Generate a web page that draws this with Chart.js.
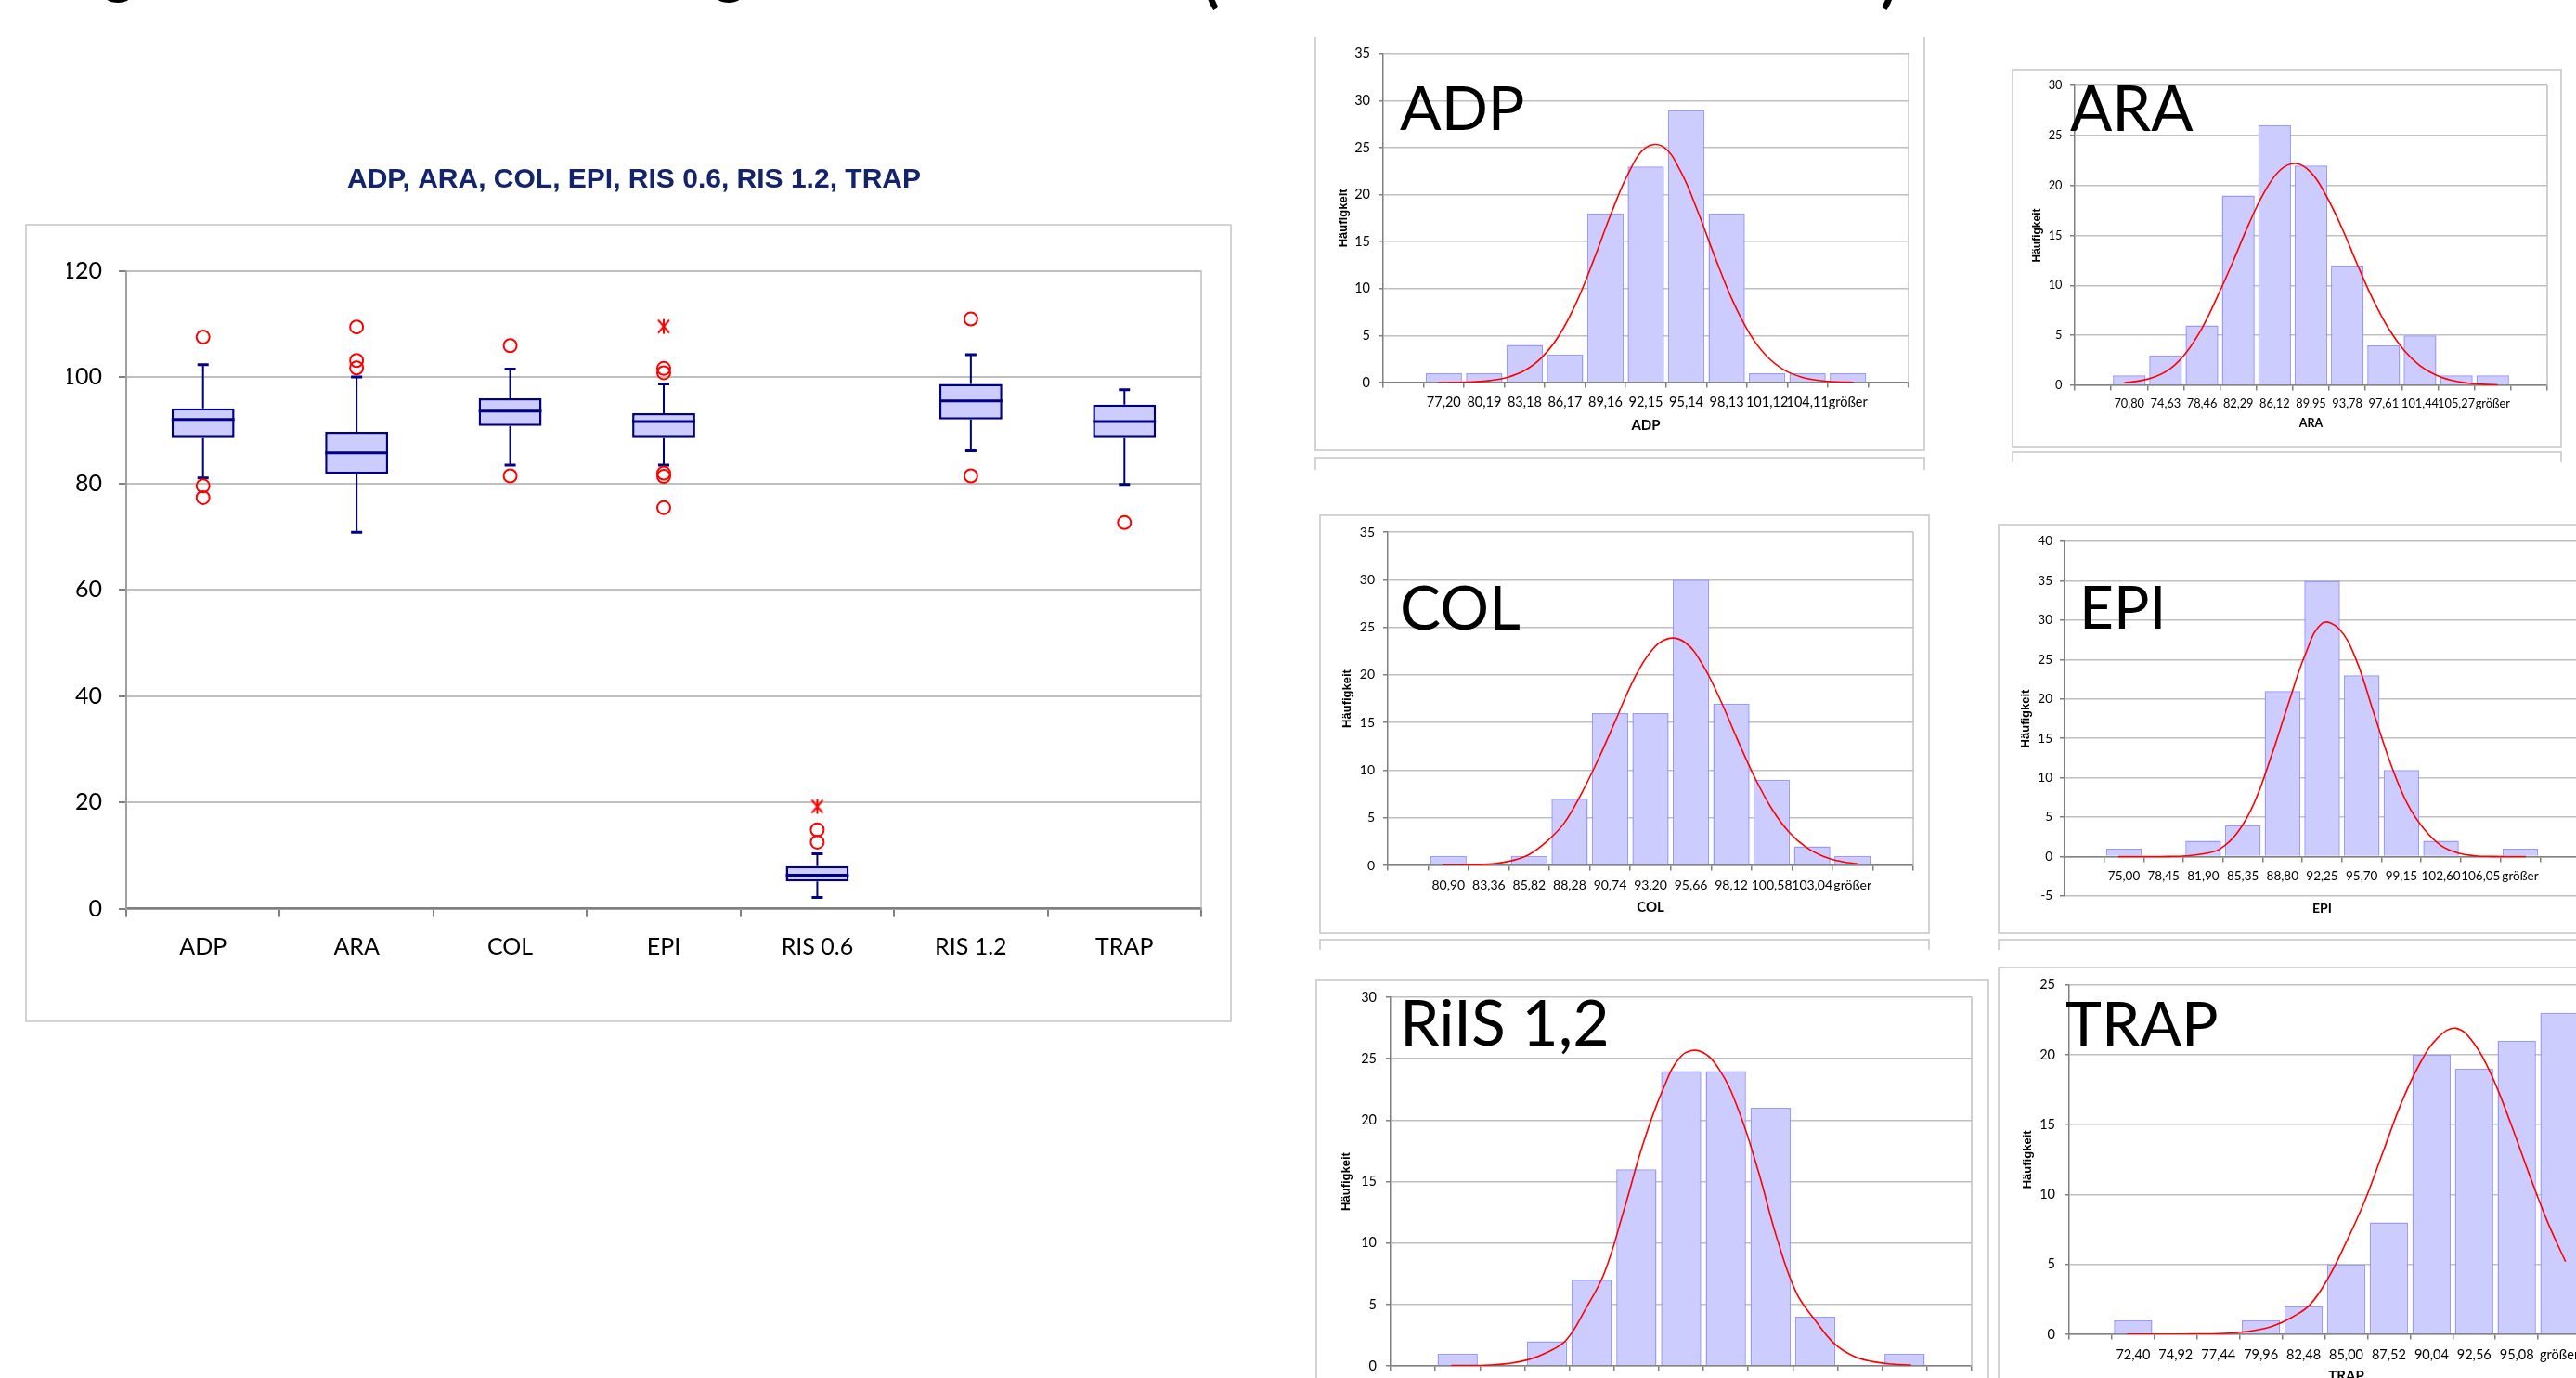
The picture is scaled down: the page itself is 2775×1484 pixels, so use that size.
<!DOCTYPE html>
<html><head><meta charset="utf-8">
<script src="https://cdn.jsdelivr.net/npm/chart.js@4.4.1/dist/chart.umd.min.js"></script>
<style>
html,body{margin:0;padding:0;background:#fff;overflow:hidden;width:2775px;height:1484px;position:relative}
.frame{position:absolute;border:2px solid #d4d4d4;box-sizing:border-box}
.big{position:absolute;font-family:Lato,sans-serif;color:#000;line-height:1;white-space:nowrap;z-index:5}
.top{position:absolute;font-family:Lato,sans-serif;font-weight:bold;font-size:64px;line-height:1;color:#000}
canvas{position:absolute;z-index:2}
</style></head><body>
<script>
// ---------------- data ----------------
const boxCats   = ['ADP','ARA','COL','EPI','RIS 0.6','RIS 1.2','TRAP'];
const boxLow    = [81.0, 70.8, 83.4, 83.4, 2.1, 86.1, 79.8];
const boxQ1     = [88.5, 81.8, 90.8, 88.5, 5.1, 92.0, 88.5];
const boxMedian = [92.0, 85.7, 93.6, 91.6, 6.3, 95.5, 91.6];
const boxQ3     = [94.1, 89.7, 96.0, 93.2, 8.0, 98.7, 94.8];
const boxHigh   = [102.3,100.0,101.5, 98.7,10.3,104.2, 97.6];
const outlierCats = ['ADP','ADP','ADP','ARA','ARA','ARA','COL','COL','EPI','EPI','EPI','EPI','EPI','RIS 0.6','RIS 0.6','RIS 1.2','RIS 1.2','TRAP'];
const outlierVals = [107.5,79.5,77.3,109.4,103.1,101.7,105.9,81.4,101.6,100.8,81.9,81.3,75.4,14.8,12.5,110.9,81.4,72.6];
const extremeCats = ['EPI','RIS 0.6'];
const extremeVals = [109.5, 19.2];
const boxYTicks = [0,20,40,60,80,100,120];

const curveX = [0,0.5,1,1.5,2,2.5,3,3.5,4,4.5,5,5.5,6,6.5,7,7.5,8,8.5,9,9.5,10,10.5,11,11.5,12];

const adpBins   = ['77,20','80,19','83,18','86,17','89,16','92,15','95,14','98,13','101,12','104,11','größer'];
const adpCounts = [1,1,4,3,18,23,29,18,1,1,1];
const adpCurve  = [0.0,0.02,0.07,0.21,0.55,1.28,2.68,5.04,8.56,13.1,18.0,22.3,25.0,25.1,22.5,18.2,13.3,8.75,5.18,2.76,1.32,0.57,0.22,0.08,0.02];

const araBins   = ['70,80','74,63','78,46','82,29','86,12','89,95','93,78','97,61','101,44','105,27','größer'];
const araCounts = [1,3,6,19,26,22,12,4,5,1,1];
const araCurve  = [0.25,0.45,0.85,1.7,3.3,5.7,8.9,12.4,16.1,19.3,21.5,22.2,21.3,18.9,15.7,12.0,8.53,5.64,3.46,1.97,1.04,0.51,0.23,0.10,0.04];

const colBins   = ['80,90','83,36','85,82','88,28','90,74','93,20','95,66','98,12','100,58','103,04','größer'];
const colCounts = [1,0,1,7,16,16,30,17,9,2,1];
const colCurve  = [0.01,0.03,0.09,0.2,0.5,1.15,2.5,4.4,7.5,11.2,15.3,19.4,22.4,23.8,23.4,21.1,17.5,13.3,9.3,5.95,3.49,1.88,0.93,0.42,0.17];

const epiBins   = ['75,00','78,45','81,90','85,35','88,80','92,25','95,70','99,15','102,60','106,05','größer'];
const epiCounts = [1,0,2,4,21,35,23,11,2,0,1];
const epiCurve  = [0,0,0.01,0.02,0.1,0.35,1.0,3.0,6.8,12.7,19.3,25.6,29.6,28.9,25.0,18.5,12.0,6.8,3.5,1.4,0.45,0.1,0.02,0,0];

const rilsBins   = ['','','','','','','','','','',''];
const rilsCounts = [1,0,2,7,16,24,24,21,4,0,1];
const rilsCurve  = [0.03,0.03,0.08,0.2,0.5,1.1,2.1,4.6,7.6,12.6,18.0,22.3,25.2,25.6,24.1,20.8,16.0,10.4,6.0,3.7,1.8,0.8,0.35,0.15,0.07];

const trapBins   = ['72,40','74,92','77,44','79,96','82,48','85,00','87,52','90,04','92,56','95,08','größer'];
const trapCounts = [1,0,0,1,2,5,8,20,19,21,23];
const trapCurve  = [0.02,0.02,0.02,0.02,0.03,0.05,0.12,0.28,0.6,1.2,2.1,4.0,6.6,9.5,13.0,16.5,19.3,21.2,21.9,20.8,18.4,15.1,11.5,8.1,5.2];

// ---------------- helpers ----------------
Chart.defaults.font.family = 'Lato, sans-serif';
Chart.defaults.color = '#000';

function el(tag, cls, css, text){
  const e = document.createElement(tag);
  if (cls) e.className = cls;
  Object.assign(e.style, css);
  if (text !== undefined) e.textContent = text;
  document.body.appendChild(e);
  return e;
}
function frame(l,t,w,h,extra){ el('div','frame',Object.assign({left:l+'px',top:t+'px',width:w+'px',height:h+'px'},extra||{})); }
function canvasAt(l,t,w,h){
  const c = document.createElement('canvas');
  c.width = w; c.height = h;
  c.style.left = l+'px'; c.style.top = t+'px'; c.style.width = w+'px'; c.style.height = h+'px';
  document.body.appendChild(c);
  return c;
}
const edgePlugin = {
  id:'edge',
  beforeDatasetsDraw(chart){
    const {ctx, chartArea:a} = chart;
    ctx.save(); ctx.strokeStyle = '#c0c0c0'; ctx.lineWidth = chart.$edgeW || 1.5;
    ctx.beginPath(); ctx.moveTo(a.right, a.top); ctx.lineTo(a.right, a.bottom); ctx.stroke(); ctx.restore();
  }
};

function hist(o){
  const cv = canvasAt(o.l, o.t, o.w, o.h);
  const tl = 5;
  const lhT = o.font*1.2;
  new Chart(cv, {
    type:'bar',
    data:{
      labels:['', ...o.bins, ''],
      datasets:[
        {type:'line', data:curveX.map((x,i)=>({x:x, y:o.curve[i]})), xAxisID:'x2', yAxisID:'y',
         borderColor:'#ff0000', borderWidth:1.6, pointRadius:0, tension:0.4, fill:false, order:0},
        {type:'bar', data:[null, ...o.counts, null], xAxisID:'x', yAxisID:'y', grouped:false,
         backgroundColor:'#ccccff', borderColor:'#9999ff', borderWidth:1.5, barPercentage:0.9, categoryPercentage:1, order:1}
      ]
    },
    options:{
      responsive:false, animation:false, events:[],
      layout:{padding:{left:0, top:o.pt, right:o.pr, bottom:o.pb}},
      plugins:{legend:{display:false}, tooltip:{enabled:false}},
      scales:{
        x:{type:'category', position:{y:0}, offset:true,
           grid:{display:true, drawOnChartArea:false, drawTicks:true, tickLength:tl, tickColor:'#808080', lineWidth:1.5, offset:true},
           border:{display:true, color:'#808080', width:1.5},
           ticks:{autoSkip:false, maxRotation:0, minRotation:0, padding:o.xLabelY - o.plotB - tl - lhT/2, font:{size:o.font}, color:'#000'},
           title:{display:!!o.xTitle, text:o.xTitle||'', color:'#000', font:{size:o.xTitleFont, weight:'bold'}, padding:{top:0, bottom:2}},
           afterFit(s){ s.height = (o.xTitleY - o.plotB) + o.xTitleFont*0.6 + 2; }
        },
        x2:{type:'linear', display:false, min:-0.5, max:12.5},
        y:{min:o.yMin, max:o.yMax,
           ticks:{stepSize:5, padding:o.yLabGap - tl, font:{size:o.font}, color:'#000'},
           grid:{color:'#c0c0c0', lineWidth:1.5, tickLength:tl, tickColor:'#808080'},
           border:{display:true, color:'#808080', width:1.5},
           title:{display:true, text:'Häufigkeit', color:'#000', font:{family:'Liberation Sans', size:o.yTitleFont, weight:'bold'}, padding:{top:o.yTitleX - o.l - o.yTitleFont*0.6, bottom:0}},
           afterFit(s){ s.width = o.yW; }
        }
      }
    },
    plugins:[edgePlugin]
  });
  el('div','big',{left:o.bigL+'px', top:(o.bigCapTop - 0.1705*o.bigF)+'px', fontSize:o.bigF+'px'}, o.big);
}

// ---------------- partial slide title (only descenders visible) ----------------
el('span','top',{left:'111px', top:'-64px'}, 'g');
el('span','top',{left:'769px', top:'-64px'}, 'g');
el('span','top',{left:'1296px', top:'-55px'}, '(');
el('span','top',{left:'2026px', top:'-55px'}, ')');

// ---------------- frames ----------------
frame(27,241,1300,860);
frame(1416,40,658,446,{borderTop:'none'});
frame(1416,492,658,14,{borderBottom:'none'});
frame(2167,74,593,408);
frame(2167,486,593,12,{borderBottom:'none'});
frame(1421,554,658,452);
frame(1421,1011,658,12,{borderBottom:'none'});
frame(2152,564,700,442);
frame(2152,1011,700,12,{borderBottom:'none'});
frame(1417,1054,726,500);
frame(2152,1041,700,500);

// ---------------- box plot ----------------
(function(){
  const star = document.createElement('canvas');
  star.width = 18; star.height = 18;
  const c = star.getContext('2d');
  c.strokeStyle = '#ff0000'; c.lineWidth = 2;
  c.beginPath(); c.moveTo(3,2); c.lineTo(15,16); c.moveTo(15,2); c.lineTo(3,16); c.moveTo(9,1); c.lineTo(9,17); c.stroke();

  const boxPlugin = {
    id:'boxparts',
    beforeDatasetsDraw(chart){
      const {ctx, scales:{x, y}} = chart;
      ctx.save(); ctx.strokeStyle = '#000080';
      boxCats.forEach((cat, i) => {
        const px = x.getPixelForValue(i);
        ctx.lineWidth = 2;
        ctx.beginPath();
        ctx.moveTo(px, y.getPixelForValue(boxQ3[i])); ctx.lineTo(px, y.getPixelForValue(boxHigh[i]));
        ctx.moveTo(px, y.getPixelForValue(boxQ1[i])); ctx.lineTo(px, y.getPixelForValue(boxLow[i]));
        ctx.stroke();
        ctx.lineWidth = 3;
        ctx.beginPath();
        ctx.moveTo(px-6, y.getPixelForValue(boxHigh[i])); ctx.lineTo(px+6, y.getPixelForValue(boxHigh[i]));
        ctx.moveTo(px-6, y.getPixelForValue(boxLow[i]));  ctx.lineTo(px+6, y.getPixelForValue(boxLow[i]));
        ctx.stroke();
      });
      ctx.restore();
    },
    afterDatasetsDraw(chart){
      const {ctx, scales:{y}} = chart;
      const meta = chart.getDatasetMeta(2);
      ctx.save(); ctx.strokeStyle = '#000080'; ctx.lineWidth = 3;
      boxCats.forEach((cat, i) => {
        const b = meta.data[i];
        const py = y.getPixelForValue(boxMedian[i]);
        ctx.beginPath(); ctx.moveTo(b.x - b.width/2, py); ctx.lineTo(b.x + b.width/2, py); ctx.stroke();
      });
      ctx.restore();
    }
  };

  const cv = canvasAt(28,160,1298,940);
  const chart = new Chart(cv, {
    type:'bar',
    data:{
      labels: boxCats,
      datasets:[
        {type:'line', data: extremeCats.map((c,i)=>({x:c, y:extremeVals[i]})), showLine:false,
         pointStyle: star, pointRadius:9, order:0},
        {type:'line', data: outlierCats.map((c,i)=>({x:c, y:outlierVals[i]})), showLine:false,
         pointStyle:'circle', pointRadius:7, pointBorderWidth:2, pointBorderColor:'#ff0000', pointBackgroundColor:'rgba(0,0,0,0)', order:0},
        {type:'bar', data: boxCats.map((c,i)=>[boxQ1[i], boxQ3[i]]), backgroundColor:'#ccccff', borderColor:'#000080',
         borderWidth:2.5, borderSkipped:false, grouped:false, barPercentage:0.41, categoryPercentage:1, order:2}
      ]
    },
    options:{
      responsive:false, animation:false, events:[],
      layout:{padding:{left:44, top:0, right:32, bottom:0}},
      plugins:{
        legend:{display:false}, tooltip:{enabled:false},
        title:{display:true, text:'ADP, ARA, COL, EPI, RIS 0.6, RIS 1.2, TRAP', color:'#14246b',
               font:{family:'Liberation Sans', size:30, weight:'bold'}, padding:{top:16, bottom:79.5}}
      },
      scales:{
        x:{type:'category', position:'bottom', offset:true,
           grid:{display:true, drawOnChartArea:false, drawTicks:true, tickLength:9, tickColor:'#808080', lineWidth:2, offset:true},
           border:{display:true, color:'#808080', width:2.5},
           ticks:{autoSkip:false, maxRotation:0, font:{size:25}, color:'#000', padding:17.5},
           afterFit(s){ s.height = 121.5; }
        },
        y:{min:0, max:120,
           afterBuildTicks(s){ s.ticks = boxYTicks.map(v=>({value:v})); },
           ticks:{font:{size:25}, color:'#000', padding:18},
           grid:{color:'#c0c0c0', lineWidth:2, tickLength:8, tickColor:'#808080'},
           border:{display:true, color:'#a0a0a0', width:2},
           afterFit(s){ s.width = 64; }
        }
      }
    },
    plugins:[boxPlugin, edgePlugin]
  });
  chart.$edgeW = 2;
})();

// ---------------- histograms ----------------
hist({l:1417, t:40, w:656, h:445, pt:14, pr:17, pb:73, yW:73, plotB:412,
      bins:adpBins, counts:adpCounts, curve:adpCurve, yMin:0, yMax:35, font:14.5,
      xLabelY:433, xTitle:'ADP', xTitleY:458, xTitleFont:15, yLabGap:14, yTitleX:1447, yTitleFont:13,
      big:'ADP', bigL:1508, bigCapTop:93, bigF:66});
hist({l:2168, t:75, w:591, h:406, pt:17, pr:15, pb:66, yW:67, plotB:415,
      bins:araBins, counts:araCounts, curve:araCurve, yMin:0, yMax:30, font:12.8,
      xLabelY:435, xTitle:'ARA', xTitleY:456, xTitleFont:12.5, yLabGap:13.5, yTitleX:2195, yTitleFont:12,
      big:'ARA', bigL:2230, bigCapTop:93, bigF:67});
hist({l:1422, t:555, w:656, h:450, pt:18, pr:17, pb:73, yW:73, plotB:932,
      bins:colBins, counts:colCounts, curve:colCurve, yMin:0, yMax:35, font:14,
      xLabelY:953, xTitle:'COL', xTitleY:977, xTitleFont:15, yLabGap:14, yTitleX:1451, yTitleFont:13,
      big:'COL', bigL:1508, bigCapTop:631, bigF:66});
hist({l:2153, t:565, w:641, h:440, pt:18, pr:15, pb:40, yW:71, plotB:922,
      bins:epiBins, counts:epiCounts, curve:epiCurve, yMin:-5, yMax:40, font:13.5,
      xLabelY:943, xTitle:'EPI', xTitleY:978, xTitleFont:14, yLabGap:13, yTitleX:2182, yTitleFont:13,
      big:'EPI', bigL:2240, bigCapTop:632, bigF:64});
hist({l:1418, t:1055, w:724, h:485, pt:19, pr:18, pb:69, yW:80, plotB:1471,
      bins:rilsBins, counts:rilsCounts, curve:rilsCurve, yMin:0, yMax:30, font:14.5,
      xLabelY:1492, xTitle:'', xTitleY:1515, xTitleFont:15, yLabGap:15, yTitleX:1450, yTitleFont:13,
      big:'RiIS 1,2', bigL:1508, bigCapTop:1078, bigF:68});
hist({l:2153, t:1042, w:688, h:498, pt:18, pr:15, pb:103, yW:76, plotB:1437,
      bins:trapBins, counts:trapCounts, curve:trapCurve, yMin:0, yMax:25, font:14.5,
      xLabelY:1459, xTitle:'TRAP', xTitleY:1482, xTitleFont:15, yLabGap:15, yTitleX:2184, yTitleFont:13,
      big:'TRAP', bigL:2225, bigCapTop:1079, bigF:66});
</script>
</body></html>
